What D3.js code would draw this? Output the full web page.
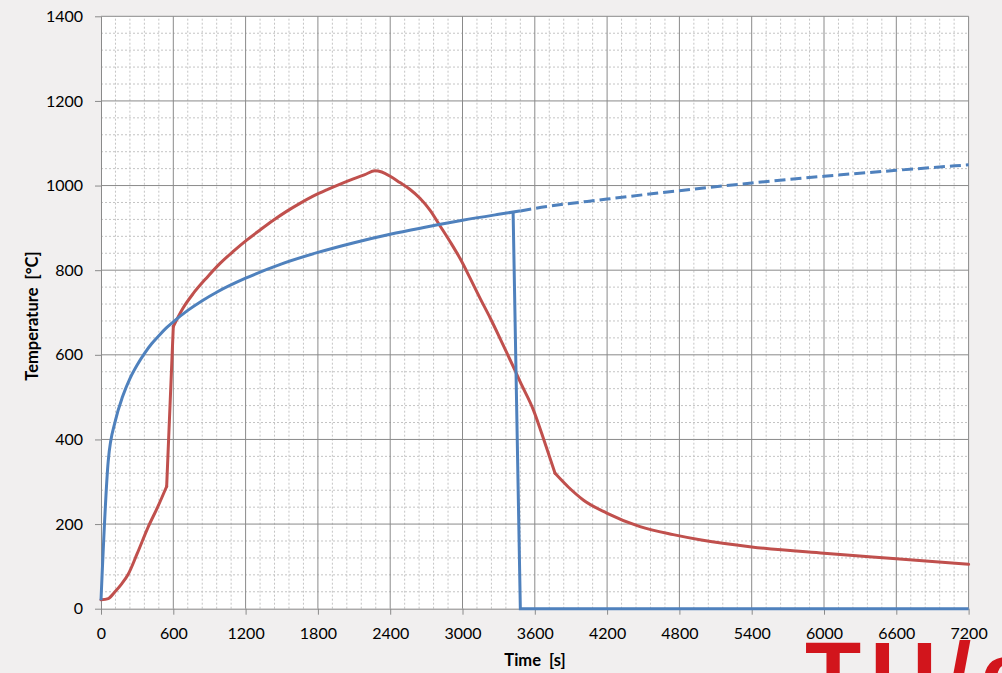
<!DOCTYPE html>
<html>
<head>
<meta charset="utf-8">
<script src="https://cdn.jsdelivr.net/npm/d3@7"></script>
<style>
  body { margin: 0; background: #f1efef; }
  svg { display: block; }
</style>
</head>
<body>
<div id="chart"></div>
<script>
const w = 1002;
const h = 673;

// ISO curve (solid part)
const isoTime = [0, 60, 120, 180, 240, 300, 360, 420, 480, 540, 600, 720, 840, 960, 1200, 1500, 1800, 2100, 2400, 2700, 3000, 3300, 3480];
const isoTemp = [20, 349, 445, 502, 544, 576, 603, 626, 645, 663, 678, 705, 728, 748, 781, 815, 842, 865, 885, 902, 918, 932, 940];

// ISO curve continued (dashed)
const isoDashTime = [3480, 3600, 4200, 4800, 5400, 6000, 6600, 7200];
const isoDashTemp = [940, 946, 968, 988, 1006, 1022, 1036, 1049];

// drop of the blue curve
const dropTime = [3420, 3480, 7200];
const dropTemp = [937, 0, 0];

// measured (red) curve, split where it has sharp corners
const redTimeA = [0, 60, 116, 170, 227, 300, 393, 470, 545];
const redTempA = [21, 24, 40, 58, 82, 130, 194, 240, 289];
const redTimeB = [545, 600];
const redTempB = [289, 667];
const redTimeC = [600, 680, 766, 880, 988, 1100, 1209, 1320, 1430, 1540, 1651, 1760, 1873, 1980, 2094, 2190, 2274, 2330, 2400, 2481, 2560, 2647, 2730, 2813, 2900, 2979, 3060, 3145, 3230, 3311, 3367, 3436, 3477, 3588, 3680, 3768];
const redTempC = [667, 710, 745, 783, 816, 845, 871, 895, 918, 939, 958, 975, 990, 1003, 1016, 1026, 1035, 1032, 1022, 1007, 992, 970, 942, 905, 866, 828, 783, 734, 687, 639, 605, 563, 537, 470, 395, 320];
const redTimeD = [3768, 3880, 4002, 4197, 4473, 4749, 4970, 5400, 6000, 6600, 7200];
const redTempD = [320, 287, 257, 226, 194, 175, 163, 146, 131, 118, 105];

const xTicks = d3.range(0, 7201, 600);
const yTicks = d3.range(0, 1401, 200);

const x = d3.scaleLinear().domain([0, 7200]).range([101, 968.6]);
const y = d3.scaleLinear().domain([0, 1400]).range([608.7, 16.3]);

const svg = d3.select("#chart").append("svg")
    .attr("width", w)
    .attr("height", h)
    .style("font-family", "Lato, 'Open Sans', sans-serif");

svg.append("rect").attr("width", w).attr("height", h).attr("fill", "#f1efef");
svg.append("rect")
    .attr("x", x(0)).attr("y", y(1400))
    .attr("width", x(7200) - x(0)).attr("height", y(0) - y(1400))
    .attr("fill", "#fff");

// minor grid
svg.append("g").selectAll("line")
    .data(d3.range(120, 7200, 120).filter(d => d % 600 != 0))
    .enter().append("line")
        .attr("x1", d => x(d)).attr("x2", d => x(d))
        .attr("y1", y(0)).attr("y2", y(1400))
        .attr("stroke", "#c4c4c4").attr("stroke-dasharray", "2,2");
svg.append("g").selectAll("line")
    .data(d3.range(40, 1400, 40).filter(d => d % 200 != 0))
    .enter().append("line")
        .attr("y1", d => y(d)).attr("y2", d => y(d))
        .attr("x1", x(0)).attr("x2", x(7200))
        .attr("stroke", "#c4c4c4").attr("stroke-dasharray", "2,2");

// major grid
svg.append("g").selectAll("line")
    .data(xTicks.slice(1))
    .enter().append("line")
        .attr("x1", d => x(d)).attr("x2", d => x(d))
        .attr("y1", y(0)).attr("y2", y(1400))
        .attr("stroke", "#8a8a8a");
svg.append("g").selectAll("line")
    .data(yTicks.slice(1))
    .enter().append("line")
        .attr("y1", d => y(d)).attr("y2", d => y(d))
        .attr("x1", x(0)).attr("x2", x(7200))
        .attr("stroke", "#8a8a8a");

// axes
const xAxis = svg.append("g")
    .attr("transform", "translate(0," + y(0) + ")")
    .call(d3.axisBottom(x).tickValues(xTicks).tickFormat(d3.format("d"))
        .tickSize(6).tickSizeOuter(0).tickPadding(13));
const yAxis = svg.append("g")
    .attr("transform", "translate(" + x(0) + ",0)")
    .call(d3.axisLeft(y).tickValues(yTicks).tickFormat(d3.format("d"))
        .tickSize(6).tickSizeOuter(0).tickPadding(12));
[xAxis, yAxis].forEach(a => {
    a.select(".domain").attr("stroke", "#8a8a8a");
    a.selectAll(".tick line").attr("stroke", "#8a8a8a");
    a.selectAll("text").attr("fill", "#000").style("font-size", "16px").style("font-family", "Lato, sans-serif");
});

const line = d3.line().x(d => x(d[0])).y(d => y(d[1]));
const smooth = d3.line().x(d => x(d[0])).y(d => y(d[1])).curve(d3.curveMonotoneX);
const pairs = (ts, vs) => ts.map((t, i) => [t, vs[i]]);

[[redTimeA, redTempA, smooth], [redTimeB, redTempB, line], [redTimeC, redTempC, smooth], [redTimeD, redTempD, smooth]]
    .forEach(([ts, vs, gen]) => {
        svg.append("path")
            .datum(pairs(ts, vs))
            .attr("d", gen)
            .attr("fill", "none").attr("stroke", "#c0504d").attr("stroke-width", 3)
            .attr("stroke-linecap", "round").attr("stroke-linejoin", "round");
    });

svg.append("path")
    .datum(pairs(isoTime, isoTemp))
    .attr("d", smooth)
    .attr("fill", "none").attr("stroke", "#4f81bd").attr("stroke-width", 3);
svg.append("path")
    .datum(pairs(isoDashTime, isoDashTemp))
    .attr("d", smooth)
    .attr("fill", "none").attr("stroke", "#4f81bd").attr("stroke-width", 3)
    .attr("stroke-dasharray", "11,5");
svg.append("path")
    .datum(pairs(dropTime, dropTemp))
    .attr("d", line)
    .attr("fill", "none").attr("stroke", "#4f81bd").attr("stroke-width", 3);

// axis titles
svg.append("text")
    .attr("x", 535).attr("y", 666)
    .attr("text-anchor", "middle")
    .style("font-size", "16.5px").style("font-weight", "bold")
    .style("white-space", "pre")
    .text("Time  [s]");
svg.append("text")
    .attr("transform", "translate(38,316) rotate(-90)")
    .attr("text-anchor", "middle")
    .style("font-size", "16.5px").style("font-weight", "bold")
    .style("white-space", "pre")
    .text("Temperature  [°C]");

// logo fragment
svg.append("text")
    .attr("x", 805).attr("y", 707)
    .attr("fill", "#d2151c")
    .style("font-family", "'Liberation Sans', Arial, sans-serif")
    .style("font-size", "92px").style("font-weight", "bold")
    .style("letter-spacing", "9px")
    .text("TU/e");
</script>
</body>
</html>
